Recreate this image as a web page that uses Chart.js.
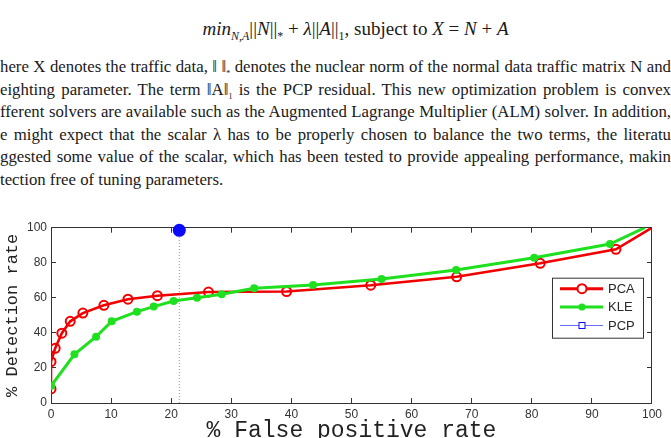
<!DOCTYPE html>
<html>
<head>
<meta charset="utf-8">
<script src="https://cdn.jsdelivr.net/npm/chart.js@4.4.1/dist/chart.umd.min.js"></script>
<style>
  html, body { margin: 0; padding: 0; background: #fff; }
  body { width: 671px; height: 438px; overflow: hidden; position: relative; }
  .doc { position: absolute; left: 0; width: 671px; font-family: "Liberation Serif", "Times New Roman", serif; color: #1a1a1a; }
  .formula { top: 18px; text-align: center; font-size: 19px; padding-left: 20px; }
  .formula sub { font-size: 12px; }
  .para { top: 56px; font-size: 16.8px; line-height: 22.5px; }
  .para div { height: 22.5px; overflow: hidden; text-align: justify; text-align-last: justify; }
  .para div.last { text-align-last: left; }
  .para sub { font-size: 8px; }
  #wrap { position: absolute; left: 0; top: 210px; width: 671px; height: 240px; }
</style>
</head>
<body>
<div class="doc formula"><i>min</i><sub><i>N,A</i></sub>||<i>N</i>||<sub>*</sub> + <i>λ</i>||<i>A</i>||<sub>1</sub>, subject to <i>X</i> = <i>N</i> + <i>A</i></div>
<div class="doc para">
  <div>here X denotes the traffic data, ‖ ‖<sub>*</sub> denotes the nuclear norm of the normal data traffic matrix N and</div>
  <div>eighting parameter. The term ‖A‖<sub>1</sub> is the PCP residual. This new optimization problem is convex</div>
  <div>fferent solvers are available such as the Augmented Lagrange Multiplier (ALM) solver. In addition,</div>
  <div>e might expect that the scalar λ has to be properly chosen to balance the two terms, the literatu</div>
  <div>ggested some value of the scalar, which has been tested to provide appealing performance, makin</div>
  <div class="last">tection free of tuning parameters.</div>
</div>
<div id="wrap"><canvas id="roc"></canvas></div>
<script>
// false positive rate (%) / detection rate (%)
const pcaFpr = [0, 0, 0.7, 1.8, 3.2, 5.3, 8.8, 12.8, 17.7, 26.2, 39.2, 53.2, 67.5, 81.4, 94.0, 100];
const pcaDet = [8, 23.6, 31.2, 39.8, 46.6, 51.3, 55.7, 59.2, 61.2, 63.3, 63.6, 67.2, 72.0, 79.7, 87.7, 100];
const kleFpr = [0, 3.9, 7.5, 10.1, 14.3, 17.1, 20.4, 24.3, 28.4, 33.8, 43.6, 55.0, 67.4, 80.4, 93.0, 98.8];
const kleDet = [9.7, 27.8, 37.8, 46.6, 52.1, 55.0, 58.2, 60.1, 62.0, 65.4, 67.3, 70.7, 75.9, 82.9, 90.7, 100];
const pcpFpr = [21.35];
const pcpDet = [98.5];
const axisMin = 0;
const axisMax = 100;
const xStep = 10;
const yStep = 20;
const xTitle = "% False positive rate";
const yTitle = "% Detection rate";

const toPoints = (xs, ys) => xs.map((x, i) => ({ x, y: ys[i] }));
const noLastMarker = (r) => (c) => (c.dataIndex === c.dataset.data.length - 1 ? 0 : r);

const RED = "#f20000";
const GREEN = "#1fe01f";
const BLUE = "#0a0aff";
const INK = "#333";

// legend samples (line + marker) drawn inside the axes, MATLAB style
const boxLegend = {
  id: "boxLegend",
  afterDraw(chart, args, opts) {
    const { ctx, chartArea } = chart;
    const w = 91, h = 60;
    const left = chartArea.right - 9 - w;
    const top = chartArea.top + 50;
    ctx.save();
    ctx.fillStyle = "#fff";
    ctx.fillRect(left, top, w, h);
    ctx.strokeStyle = INK;
    ctx.lineWidth = 1;
    ctx.strokeRect(left + 0.5, top + 0.5, w, h);
    opts.items.forEach((it, i) => {
      const y = top + 11 + i * 18.4;
      ctx.strokeStyle = it.color;
      ctx.lineWidth = it.width;
      ctx.beginPath();
      ctx.moveTo(left + 8, y);
      ctx.lineTo(left + 51, y);
      ctx.stroke();
      const mx = left + 30;
      ctx.lineWidth = it.markerWidth;
      if (it.marker === "circle") {
        ctx.beginPath();
        ctx.arc(mx, y, it.size, 0, Math.PI * 2);
        ctx.fillStyle = it.fill;
        ctx.fill();
        ctx.stroke();
      } else {
        ctx.strokeStyle = BLUE;
        ctx.fillStyle = "#fff";
        ctx.fillRect(mx - it.size, y - it.size, it.size * 2, it.size * 2);
        ctx.strokeRect(mx - it.size, y - it.size, it.size * 2, it.size * 2);
      }
      ctx.fillStyle = "#2a2a2a";
      ctx.font = '13px "Liberation Sans", Arial, sans-serif';
      ctx.textBaseline = "middle";
      ctx.fillText(it.label, left + 56, y + 0.5);
    });
    ctx.restore();
  },
};

const tickFont = { family: '"Liberation Sans", Arial, sans-serif', size: 12 };
const inwardGrid = { drawOnChartArea: false, drawTicks: true, tickLength: -5, color: INK };
const frame = { display: true, color: INK, width: 1 };

new Chart(document.getElementById("roc"), {
  type: "line",
  data: {
    datasets: [
      {
        label: "PCA",
        data: toPoints(pcaFpr, pcaDet),
        borderColor: RED,
        borderWidth: 2.6,
        pointStyle: "circle",
        pointRadius: noLastMarker(4.5),
        pointBorderWidth: 2,
        pointBorderColor: RED,
        pointBackgroundColor: "rgba(255,255,255,0)",
        order: 2,
      },
      {
        label: "KLE",
        data: toPoints(kleFpr, kleDet),
        borderColor: GREEN,
        borderWidth: 3,
        pointRadius: noLastMarker(4),
        pointBorderWidth: 0,
        pointBackgroundColor: GREEN,
        order: 1,
      },
      {
        label: "PCP",
        data: toPoints(pcpFpr, pcpDet),
        showLine: false,
        pointRadius: 6.5,
        pointBorderWidth: 0,
        pointBackgroundColor: BLUE,
        clip: false,
        order: 0,
      },
      {
        label: "",
        data: [{ x: pcpFpr[0], y: axisMin }, { x: pcpFpr[0], y: pcpDet[0] }],
        borderColor: "#9a9a9a",
        borderWidth: 1,
        borderDash: [1, 2],
        pointRadius: 0,
        order: 3,
      },
    ],
  },
  options: {
    responsive: true,
    maintainAspectRatio: false,
    animation: false,
    layout: { padding: { top: 17.7, right: 19, left: 0, bottom: 0 } },
    scales: {
      x: {
        type: "linear",
        min: axisMin,
        max: axisMax,
        ticks: { stepSize: xStep, font: tickFont, color: INK, padding: 9, maxRotation: 0 },
        grid: inwardGrid,
        border: frame,
        title: {
          display: true,
          text: xTitle,
          font: { family: '"Liberation Mono", "Courier New", monospace', size: 23 },
          color: "#222",
          padding: { top: 0, bottom: 5 },
        },
        afterFit: (s) => { s.height = 47; },
      },
      y: {
        type: "linear",
        min: axisMin,
        max: axisMax,
        ticks: { stepSize: yStep, font: tickFont, color: INK, padding: 9 },
        grid: inwardGrid,
        border: frame,
        title: {
          display: true,
          text: yTitle,
          font: { family: '"Liberation Mono", "Courier New", monospace', size: 17 },
          color: "#222",
          padding: { top: 2, bottom: 0 },
        },
        afterFit: (s) => { s.width = 51; },
      },
      x2: {
        type: "linear",
        position: "top",
        min: axisMin,
        max: axisMax,
        ticks: { stepSize: xStep, display: false },
        grid: inwardGrid,
        border: frame,
        afterFit: (s) => { s.height = 0; },
      },
      y2: {
        type: "linear",
        position: "right",
        min: axisMin,
        max: axisMax,
        ticks: { stepSize: yStep, display: false },
        grid: inwardGrid,
        border: frame,
        afterFit: (s) => { s.width = 0; },
      },
    },
    plugins: {
      legend: { display: false },
      tooltip: { enabled: false },
      boxLegend: {
        items: [
          { label: "PCA", color: RED, width: 3, marker: "circle", size: 4.5, markerWidth: 2, fill: "#fff" },
          { label: "KLE", color: GREEN, width: 3, marker: "circle", size: 3.5, markerWidth: 0.1, fill: GREEN },
          { label: "PCP", color: "#6a6aff", width: 1, marker: "square", size: 3, markerWidth: 1, fill: "#fff" },
        ],
      },
    },
  },
  plugins: [boxLegend],
});
</script>
</body>
</html>
